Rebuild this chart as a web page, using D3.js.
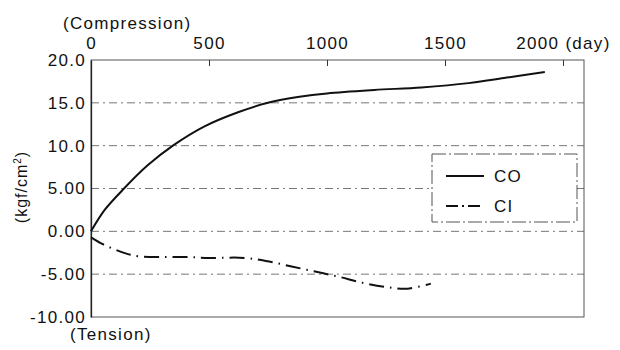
<!DOCTYPE html>
<html>
<head>
<meta charset="utf-8">
<script src="https://cdn.jsdelivr.net/npm/d3@7"></script>
<style>
  html, body { margin: 0; padding: 0; background: #fff; }
  svg { display: block; }
  text { font-family: "Liberation Sans", Arial, sans-serif; fill: #111; }
</style>
</head>
<body>
<svg id="chart" width="620" height="350"></svg>
<script>
// Elapsed time (days)
const coDays   = [0, 58, 140, 240, 347, 481, 623, 750, 883, 1000, 1200, 1400, 1600, 1750, 1923];
// CO: compressive stress (kgf/cm²)
const coValues = [0, 2.5, 5.0, 7.7, 10.0, 12.25, 13.9, 15.0, 15.7, 16.1, 16.5, 16.8, 17.3, 17.9, 18.6];
const ciDays   = [0, 50, 100, 150, 200, 300, 400, 500, 650, 750, 850, 950, 1050, 1150, 1250, 1340, 1440];
// CI: stress, tension negative (kgf/cm²)
const ciValues = [-0.7, -1.5, -2.1, -2.6, -2.9, -3.0, -3.0, -3.1, -3.1, -3.5, -4.1, -4.7, -5.3, -6.0, -6.5, -6.7, -6.1];

const xTicks = [0, 500, 1000, 1500, 2000];
const xTickLabels = ["0", "500", "1000", "1500", "2000 (day)"];
const yTicks = [20, 15, 10, 5, 0, -5, -10];
const yTickLabels = ["20.0", "15.0", "10.0", "5.00", "0.00", "-5.00", "-10.00"];
const gridValues = [15, 10, 5, 0, -5];
const seriesNames = ["CO", "CI"];

const svg = d3.select("#chart");
const plot = { left: 91, right: 584, top: 60, bottom: 317 };

const x = d3.scaleLinear().domain([0, 2089]).range([plot.left, plot.right]);
const y = d3.scaleLinear().domain([-10, 20]).range([plot.bottom, plot.top]);

const labelStyle = sel => sel.attr("font-size", 17).attr("letter-spacing", 1.3);

// Horizontal dash-dot grid lines
svg.append("g").selectAll("line").data(gridValues).join("line")
  .attr("x1", plot.left).attr("x2", plot.right)
  .attr("y1", d => y(d)).attr("y2", d => y(d))
  .attr("stroke", "#777").attr("stroke-width", 1)
  .attr("stroke-dasharray", "8,4,2,4");

// Plot frame
svg.append("rect")
  .attr("x", plot.left).attr("y", plot.top)
  .attr("width", plot.right - plot.left).attr("height", plot.bottom - plot.top)
  .attr("fill", "none").attr("stroke", "#555").attr("stroke-width", 1);

// Top axis (days)
const xAxis = d3.axisTop(x).tickValues(xTicks).tickSize(-6).tickPadding(11)
  .tickFormat((d, i) => xTickLabels[i]);
const gx = svg.append("g").attr("transform", `translate(0,${plot.top})`).call(xAxis);
gx.select(".domain").remove();
gx.selectAll(".tick line").attr("stroke", "#333").filter(d => d === 0).remove();
gx.selectAll(".tick text").call(labelStyle)
  .attr("font-family", "Liberation Sans, Arial, sans-serif").attr("fill", "#111");

// Left axis (stress)
const yAxis = d3.axisLeft(y).tickValues(yTicks).tickSize(0).tickPadding(5)
  .tickFormat((d, i) => yTickLabels[i]);
const gy = svg.append("g").attr("transform", `translate(${plot.left},0)`).call(yAxis);
gy.select(".domain").attr("stroke", "#222").attr("stroke-width", 1.3);
gy.selectAll(".tick text").call(labelStyle)
  .attr("font-family", "Liberation Sans, Arial, sans-serif").attr("fill", "#111");

// Axis titles
svg.append("text").attr("x", 63).attr("y", 29).text("(Compression)").call(labelStyle);
svg.append("text").attr("x", 70).attr("y", 340).text("(Tension)").call(labelStyle);
const yTitle = svg.append("text")
  .attr("transform", "translate(27,187) rotate(-90)")
  .attr("text-anchor", "middle").attr("font-size", 16).attr("letter-spacing", 1);
yTitle.append("tspan").text("(kgf/cm");
yTitle.append("tspan").attr("font-size", 10).attr("dy", -6).text("2");
yTitle.append("tspan").attr("dy", 6).text(")");

// Series
const line = d3.line().x(d => x(d[0])).y(d => y(d[1])).curve(d3.curveCatmullRom.alpha(0.5));
const coData = coDays.map((d, i) => [d, coValues[i]]);
const ciData = ciDays.map((d, i) => [d, ciValues[i]]);

svg.append("path").datum(coData).attr("d", line)
  .attr("fill", "none").attr("stroke", "#111").attr("stroke-width", 2);
svg.append("path").datum(ciData).attr("d", line)
  .attr("fill", "none").attr("stroke", "#111").attr("stroke-width", 2)
  .attr("stroke-dasharray", "15,6,1.5,6");

// Legend
const legend = svg.append("g");
legend.append("rect").attr("x", 432).attr("y", 154).attr("width", 145).attr("height", 68)
  .attr("fill", "#fff").attr("stroke", "#555").attr("stroke-width", 1)
  .attr("stroke-dasharray", "14,3,2,3");
const legendRows = [
  { name: seriesNames[0], y: 176, dash: null },
  { name: seriesNames[1], y: 206, dash: "12,4,2,4" }
];
legendRows.forEach(r => {
  legend.append("line").attr("x1", 446).attr("x2", 484).attr("y1", r.y).attr("y2", r.y)
    .attr("stroke", "#111").attr("stroke-width", 2)
    .attr("stroke-dasharray", r.dash);
  legend.append("text").attr("x", 494).attr("y", r.y).attr("dy", "0.36em")
    .text(r.name).call(labelStyle);
});
</script>
</body>
</html>
